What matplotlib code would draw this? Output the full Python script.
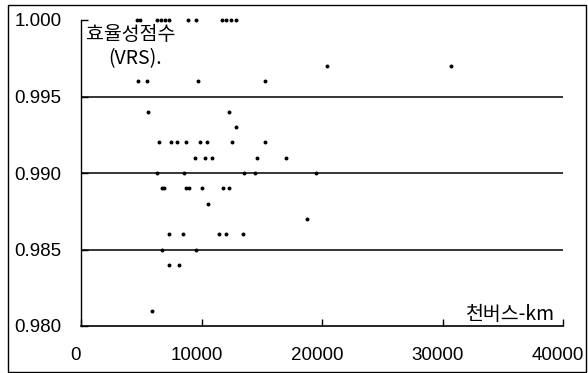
import matplotlib.pyplot as plt
from matplotlib.patches import Rectangle
from matplotlib.transforms import ScaledTranslation

# bus-km (x) vs VRS efficiency score (y)
bus_km = [4650, 4900, 6300, 6650, 6950, 7300, 8900, 9550, 11700, 12050, 12450, 12850,
          20400, 30700,
          4750, 5450, 9700, 15250,
          5550, 12300,
          12900,
          6450, 7450, 8000, 8700, 9900, 10450, 12500, 15250,
          9450, 10250, 10900, 14600, 17000,
          6300, 8550, 13550, 14450, 19500,
          6700, 6850, 8700, 8950, 10050, 11750, 12250,
          10550,
          18750,
          7300, 8450, 11450, 12000, 13450,
          6750, 9550,
          7300, 8150,
          5900]
vrs_score = [1.000] * 12 + [0.997] * 2 + [0.996] * 4 + [0.994] * 2 + [0.993] \
    + [0.992] * 8 + [0.991] * 5 + [0.990] * 5 + [0.989] * 7 + [0.988] + [0.987] \
    + [0.986] * 5 + [0.985] * 2 + [0.984] * 2 + [0.981]

x_ticks = [0, 10000, 20000, 30000, 40000]
y_ticks = [0.980, 0.985, 0.990, 0.995, 1.000]
y_label = '효율성점수'
y_label2 = '(VRS).'
x_label = '천버스-km'

plt.rcParams['font.family'] = ['Liberation Sans', 'DejaVu Sans']

fig = plt.figure(figsize=(5.88, 3.73), dpi=100)
ax = fig.add_axes([81/588, 47/373, 482/588, 306/373])

# outer frame around the whole figure
fig.patches.append(Rectangle((8/588, 1.5/373), 578/588, 367/373, transform=fig.transFigure,
                             fill=False, edgecolor='black', linewidth=1.0))

for yv in [0.985, 0.990, 0.995]:
    ax.axhline(yv, color='black', linewidth=1.1, zorder=1)

ax.scatter(bus_km, vrs_score, s=8, color='black', marker='o', linewidths=0, zorder=3, clip_on=False)

ax.set_xlim(0, 40000)
ax.set_ylim(0.980, 1.000)
ax.set_xticks(x_ticks)
ax.set_xticklabels([str(v) for v in x_ticks])
ax.set_yticks(y_ticks)
ax.set_yticklabels(['%.3f' % v for v in y_ticks])
ax.tick_params(axis='both', direction='in', length=5, width=1, labelsize=13.5, colors='black')
ax.tick_params(axis='y', pad=14)
ax.tick_params(axis='x', pad=15)
ax.spines['top'].set_visible(False)
ax.spines['right'].set_visible(False)
ax.spines['left'].set_linewidth(1.0)
ax.spines['bottom'].set_linewidth(1.2)

# x tick labels sit a few pixels left of their ticks in the original
shift = ScaledTranslation(-5/100, 0, fig.dpi_scale_trans)
for lab in ax.get_xticklabels():
    lab.set_transform(lab.get_transform() + shift)

kfont = ['Noto Sans CJK KR', 'DejaVu Sans']
ax.text(0.010, 0.951, y_label, transform=ax.transAxes, family=kfont, fontsize=14,
        ha='left', va='center')
ax.text(0.056, 0.874, y_label2, transform=ax.transAxes, family=kfont, fontsize=14,
        ha='left', va='center')
ax.text(0.983, 0.004, x_label, transform=ax.transAxes, family=kfont, fontsize=14,
        ha='right', va='bottom')

plt.savefig('out.png', dpi=100)
